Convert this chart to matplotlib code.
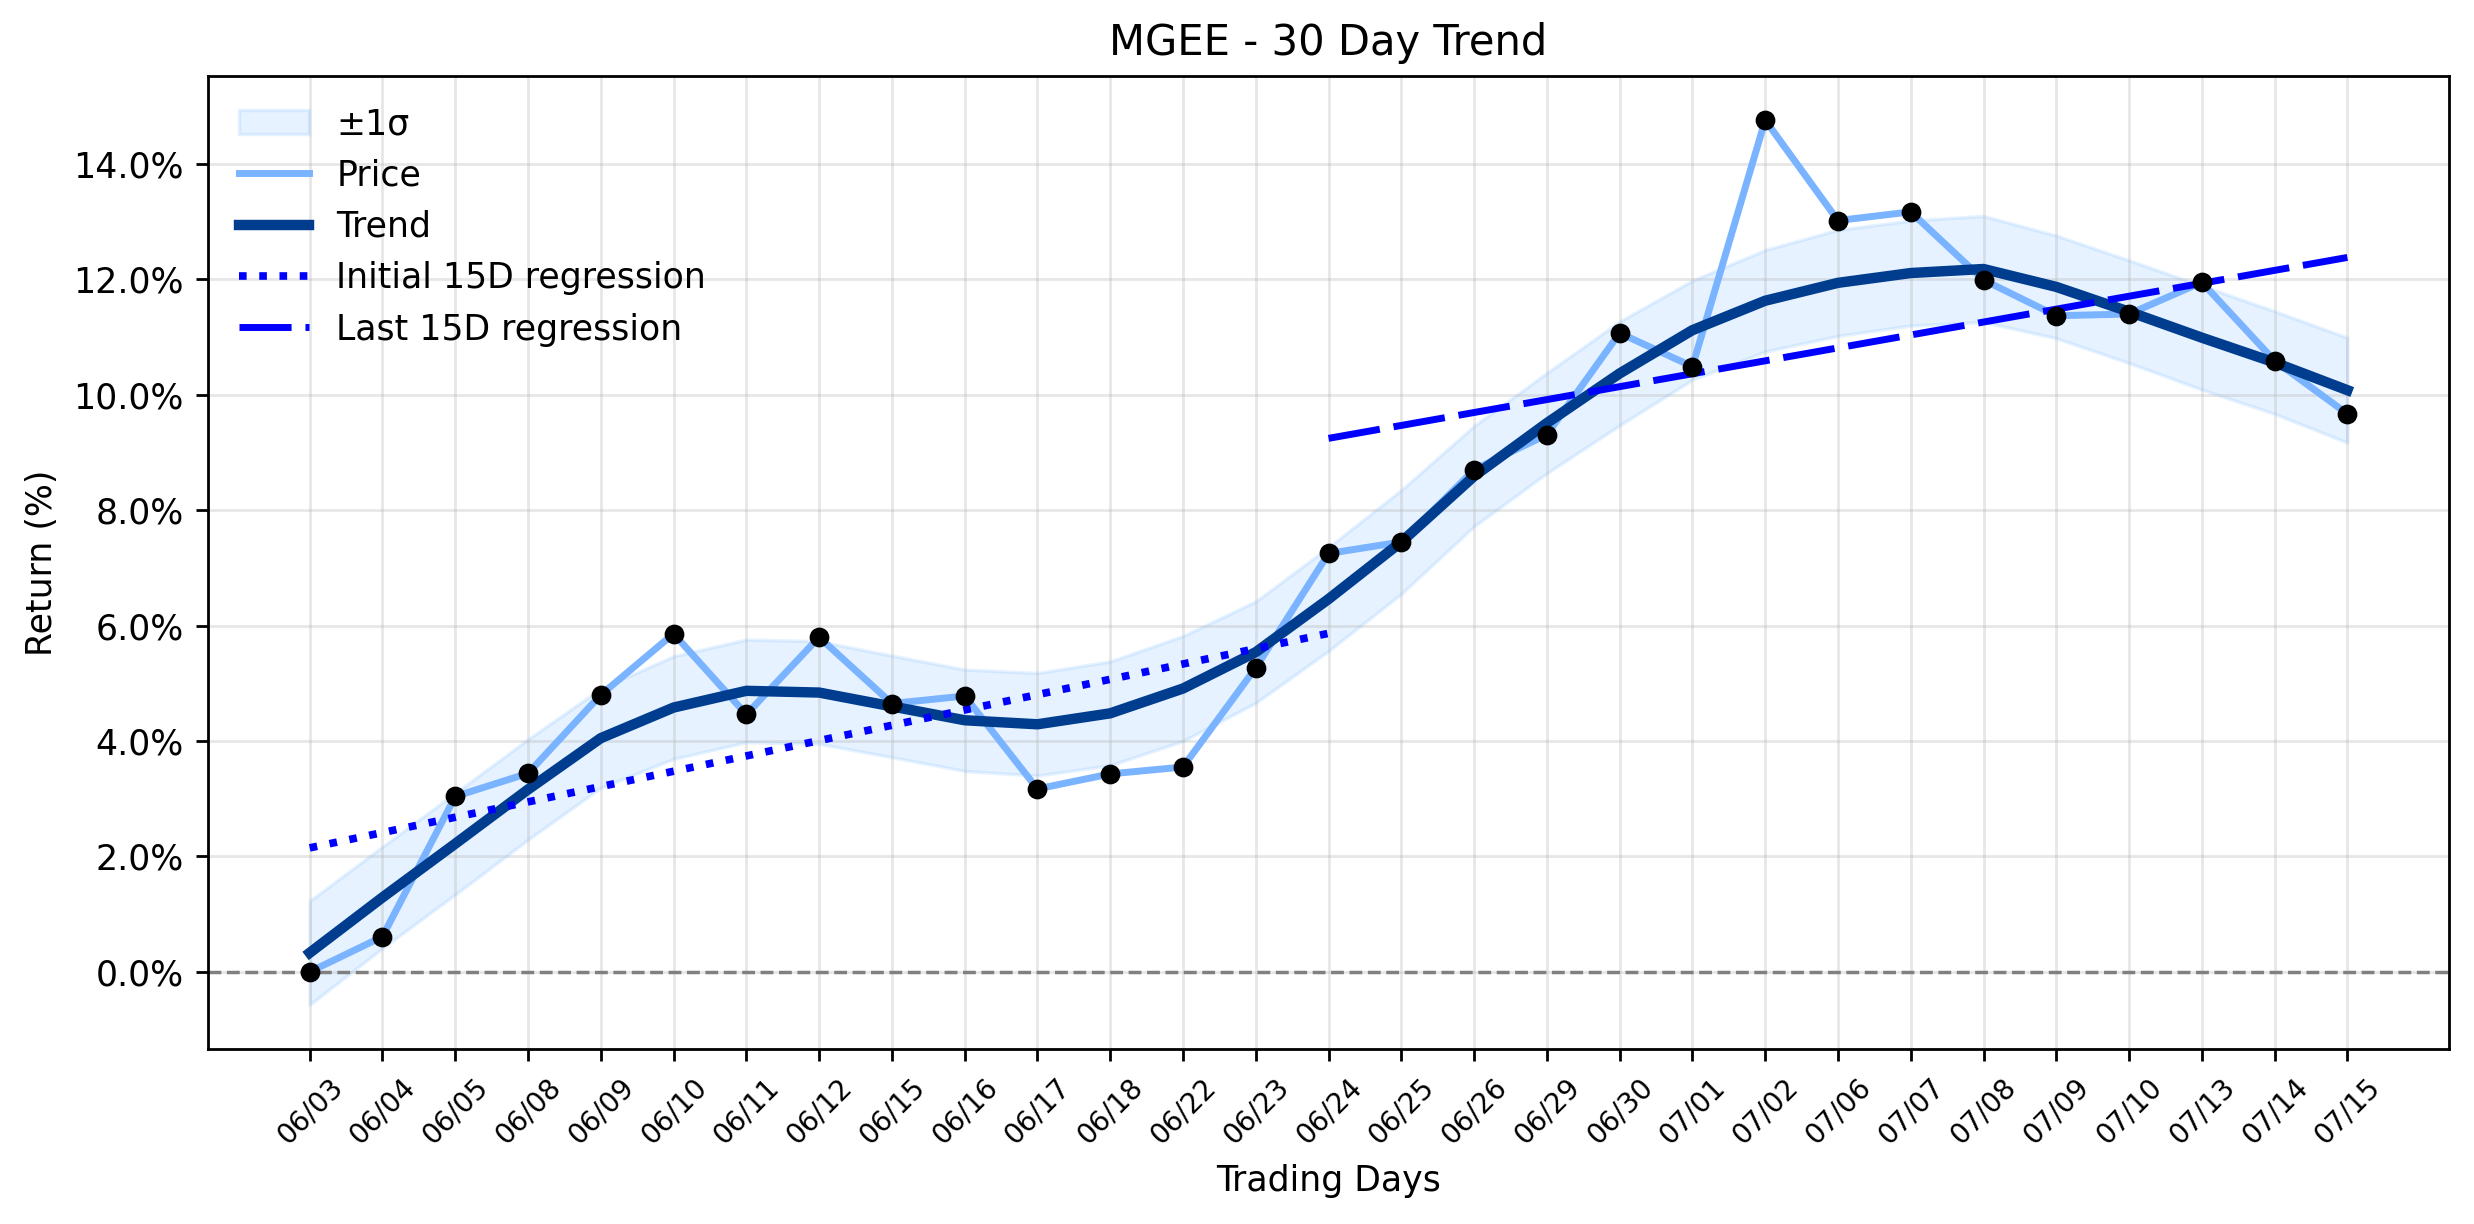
import numpy as np
import matplotlib
matplotlib.use("Agg")
import matplotlib.pyplot as plt
from matplotlib.ticker import FuncFormatter

# -------------------------------------------------
# Data
# -------------------------------------------------
dates = ["06/03", "06/04", "06/05", "06/08", "06/09", "06/10", "06/11", "06/12",
         "06/15", "06/16", "06/17", "06/18", "06/22", "06/23", "06/24", "06/25",
         "06/26", "06/29", "06/30", "07/01", "07/02", "07/06", "07/07", "07/08",
         "07/09", "07/10", "07/13", "07/14", "07/15"]

price = [0.00, 0.61, 3.04, 3.44, 4.80, 5.86, 4.46, 5.80, 4.65, 4.78, 3.17, 3.43,
         3.55, 5.27, 7.25, 7.45, 8.70, 9.31, 11.07, 10.49, 14.76, 13.02, 13.17,
         11.99, 11.37, 11.40, 11.95, 10.59, 9.67]

trend = [0.33, 1.29, 2.22, 3.16, 4.05, 4.58, 4.87, 4.84, 4.60, 4.36, 4.29, 4.48,
         4.91, 5.54, 6.46, 7.45, 8.59, 9.51, 10.37, 11.12, 11.63, 11.94, 12.11,
         12.18, 11.87, 11.44, 10.99, 10.56, 10.08]

sigma = [0.90, 0.88, 0.88, 0.87, 0.86, 0.89, 0.89, 0.89, 0.88, 0.88, 0.89, 0.90,
         0.91, 0.88, 0.90, 0.90, 0.87, 0.87, 0.90, 0.86, 0.88, 0.92, 0.91, 0.92,
         0.89, 0.89, 0.90, 0.89, 0.91]

WINDOW = 15

# -------------------------------------------------
# Plot
# -------------------------------------------------
x = np.arange(len(dates))
p = np.array(price)
t = np.array(trend)
s = np.array(sigma)

fig, ax = plt.subplots(figsize=(2474 / 250, 1224 / 250), dpi=250)
fig.subplots_adjust(left=0.084, right=0.990, top=0.938, bottom=0.143)

ax.fill_between(x, t - s, t + s, color="#3399ff", alpha=0.12, label="±1σ")
ax.plot(x, p, color="#7ab3ff", lw=2, label="Price")
ax.scatter(x, p, color="black", s=22, zorder=5)
ax.plot(x, t, color="#003d8f", lw=3, label="Trend")

# regressions on first / last 15 days
xi = x[:WINDOW]
k0, b0 = np.polyfit(xi, p[:WINDOW], 1)
ax.plot(xi, k0 * xi + b0, color="blue", lw=2.2, linestyle=":",
        label="Initial 15D regression")

xl = x[-WINDOW:]
k1, b1 = np.polyfit(xl, p[-WINDOW:], 1)
ax.plot(xl, k1 * xl + b1, color="blue", lw=2, dashes=(7.5, 2),
        label="Last 15D regression")

ax.axhline(0, color="gray", linestyle="--", lw=1)

ax.set_title("MGEE - 30 Day Trend", fontsize=12)
ax.set_xlabel("Trading Days")
ax.set_ylabel("Return (%)")
ax.set_xticks(x)
ax.set_xticklabels(dates, rotation=45, fontsize=8)
ax.yaxis.set_major_formatter(FuncFormatter(lambda v, _: f"{v:.1f}%"))
ax.grid(True, alpha=0.3)
ax.legend(loc="upper left", frameon=False)

fig.savefig("out.png", dpi=250)
